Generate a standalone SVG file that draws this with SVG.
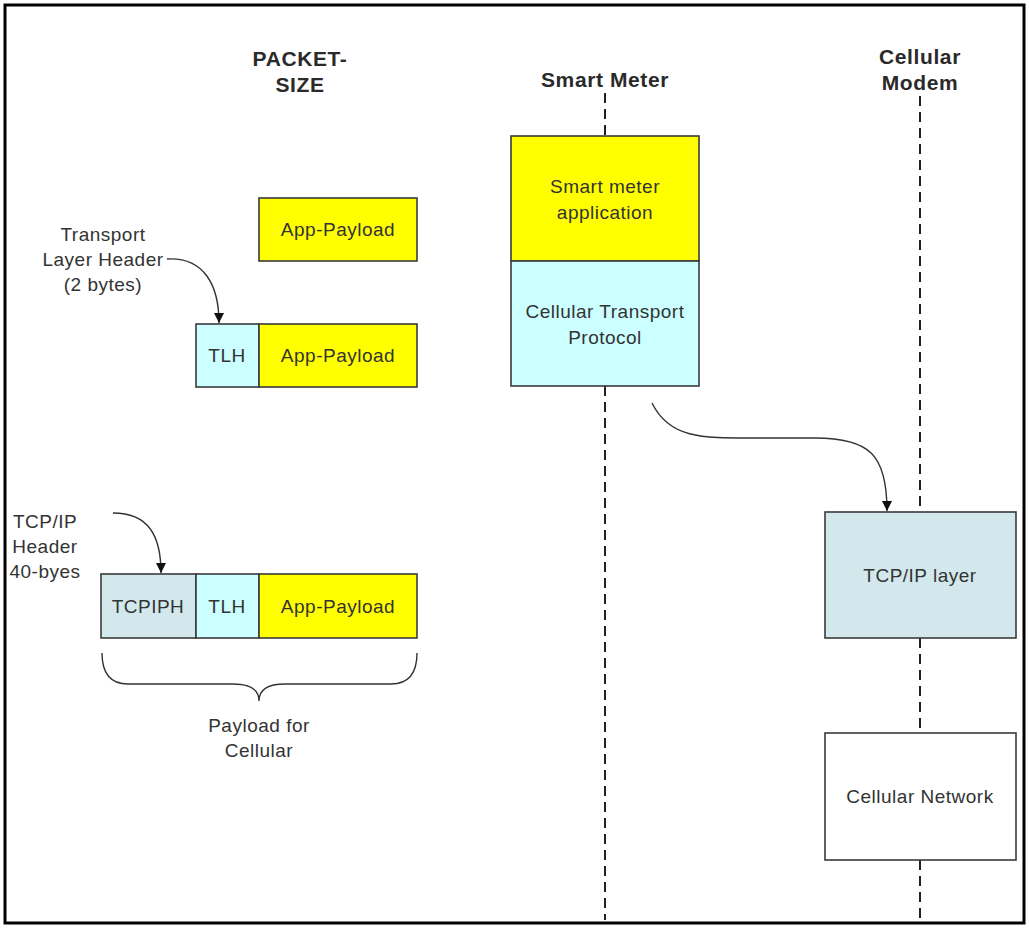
<svg xmlns="http://www.w3.org/2000/svg" width="1029" height="928" viewBox="0 0 1029 928">
<defs>
<style>
.hd{font-family:"Liberation Sans",Arial,sans-serif;font-weight:bold;font-size:21px;letter-spacing:0.6px;fill:#2a2a2a;text-anchor:middle}
.tx{font-family:"Liberation Sans",Arial,sans-serif;font-size:19px;letter-spacing:0.5px;fill:#333;text-anchor:middle}
.bx{stroke:#3a3a3a;stroke-width:1.6}
.ye{fill:#ffff00}
.cy{fill:#ccffff}
.gb{fill:#d2e8ec}
.wh{fill:#ffffff}
.life{stroke:#222;stroke-width:2;stroke-dasharray:10 6;fill:none}
.con{stroke:#333;stroke-width:1.4;fill:none}
</style>
<marker id="ah" viewBox="0 0 10 10" refX="10" refY="5" markerWidth="13" markerHeight="10" markerUnits="userSpaceOnUse" orient="auto">
<path d="M0,0 L10,5 L0,10 z" fill="#111"/>
</marker>
</defs>
<rect x="0" y="0" width="1029" height="928" fill="#fff"/>
<rect x="5" y="5" width="1019" height="918" fill="none" stroke="#000" stroke-width="3"/>

<g id="headers">
<text class="hd" x="300" y="66">PACKET-</text>
<text class="hd" x="300" y="92">SIZE</text>
<text class="hd" x="605" y="87">Smart Meter</text>
<text class="hd" x="920" y="64">Cellular</text>
<text class="hd" x="920" y="90">Modem</text>
</g>

<g id="lifelines">
<line class="life" x1="605" y1="93" x2="605" y2="136"/>
<line class="life" x1="605" y1="386" x2="605" y2="920"/>
<line class="life" x1="920" y1="96" x2="920" y2="512"/>
<line class="life" x1="920" y1="638" x2="920" y2="733"/>
<line class="life" x1="920" y1="860" x2="920" y2="920"/>
</g>

<g id="smart-meter-app">
<rect class="bx ye" x="511" y="136" width="188" height="125"/>
<text class="tx" x="605" y="193">Smart meter</text>
<text class="tx" x="605" y="219">application</text>
</g>
<g id="cellular-transport">
<rect class="bx cy" x="511" y="261" width="188" height="125"/>
<text class="tx" x="605" y="318">Cellular Transport</text>
<text class="tx" x="605" y="344">Protocol</text>
</g>
<g id="tcpip-layer">
<rect class="bx gb" x="825" y="512" width="191" height="126"/>
<text class="tx" x="920" y="582">TCP/IP layer</text>
</g>
<g id="cellular-network">
<rect class="bx wh" x="825" y="733" width="191" height="127"/>
<text class="tx" x="920" y="803">Cellular Network</text>
</g>

<g id="packet1">
<rect class="bx ye" x="259" y="198" width="158" height="63"/>
<text class="tx" x="338" y="236">App-Payload</text>
</g>
<g id="packet2">
<rect class="bx cy" x="196" y="324" width="63" height="63"/>
<text class="tx" x="227" y="362">TLH</text>
<rect class="bx ye" x="259" y="324" width="158" height="63"/>
<text class="tx" x="338" y="362">App-Payload</text>
</g>
<g id="packet3">
<rect class="bx gb" x="101" y="574" width="95" height="64"/>
<text class="tx" x="148" y="613">TCPIPH</text>
<rect class="bx cy" x="196" y="574" width="63" height="64"/>
<text class="tx" x="227" y="613">TLH</text>
<rect class="bx ye" x="259" y="574" width="158" height="64"/>
<text class="tx" x="338" y="613">App-Payload</text>
</g>

<g id="tlh-label">
<text class="tx" x="103" y="241">Transport</text>
<text class="tx" x="103" y="266">Layer Header</text>
<text class="tx" x="103" y="291">(2 bytes)</text>
</g>
<g id="tcpip-label">
<text class="tx" x="45" y="528">TCP/IP</text>
<text class="tx" x="45" y="553">Header</text>
<text class="tx" x="45" y="578">40-byes</text>
</g>
<g id="payload-label">
<path class="con" d="M102,653 Q102,684 128,684 L233,684 Q259,684 259,701 Q259,684 285,684 L391,684 Q417,684 417,653" stroke="#555"/>
<text class="tx" x="259" y="732">Payload for</text>
<text class="tx" x="259" y="757">Cellular</text>
</g>

<g id="connectors">
<path class="con" d="M167,259 C204,257 219,285 219,323" marker-end="url(#ah)"/>
<path class="con" d="M113,513 C148,513 161,535 161,573" marker-end="url(#ah)"/>
<path class="con" d="M652,403 C670,440 705,438 760,438 L815,438 C870,438 887,455 887,511" marker-end="url(#ah)"/>
</g>
</svg>
